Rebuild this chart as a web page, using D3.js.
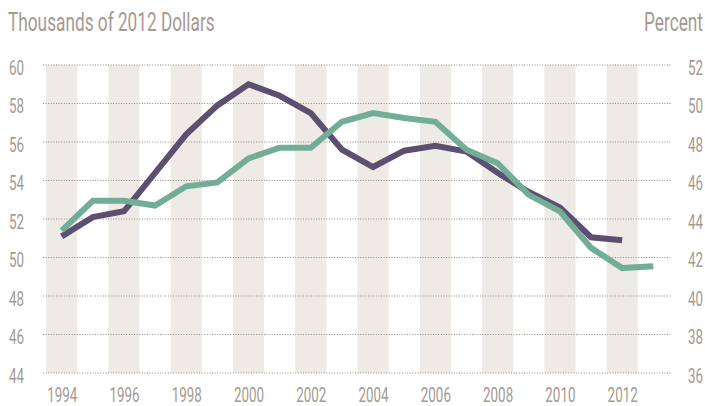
<!DOCTYPE html>
<html lang='en'>
<head>
  <meta charset='UTF-8'>
  <title>Income and share</title>
  <script src='https://cdnjs.cloudflare.com/ajax/libs/d3/7.8.5/d3.min.js'></script>
  <style>
    body { margin: 0; background: #fff; }
    text { font-family: 'Roboto', sans-serif; fill: #a59a90; }
  </style>
</head>
<body>
  <svg width='705' height='406'></svg>

  <script>
    var years = [1994, 1995, 1996, 1997, 1998, 1999, 2000, 2001, 2002, 2003, 2004,
      2005, 2006, 2007, 2008, 2009, 2010, 2011, 2012, 2013];
    // thousands of 2012 dollars (left axis), ends in 2012
    var income = [51.1, 52.1, 52.4, 54.4, 56.4, 57.9, 59.0, 58.4, 57.5, 55.6, 54.7,
      55.55, 55.8, 55.5, 54.4, 53.4, 52.6, 51.05, 50.9];
    // percent (right axis)
    var percent = [43.4, 44.95, 44.95, 44.7, 45.7, 45.9, 47.15, 47.7, 47.7, 49.05, 49.5,
      49.25, 49.05, 47.6, 46.9, 45.25, 44.4, 42.5, 41.45, 41.55];
    var leftTicks = [44, 46, 48, 50, 52, 54, 56, 58, 60];
    var rightTicks = [36, 38, 40, 42, 44, 46, 48, 50, 52];
    var yearTicks = [1994, 1996, 1998, 2000, 2002, 2004, 2006, 2008, 2010, 2012];

    var svg = d3.select('svg'),
      margin = {top: 65, right: 33, bottom: 33, left: 43},
      width = +svg.attr('width') - margin.left - margin.right,
      height = +svg.attr('height') - margin.top - margin.bottom;

    var x = d3.scaleLinear().domain([1993.4, 2013.6]).range([margin.left, margin.left + width]);
    var yL = d3.scaleLinear().domain([44, 60]).range([margin.top + height, margin.top]);
    var yR = d3.scaleLinear().domain([36, 52]).range([margin.top + height, margin.top]);
    var step = x(1995) - x(1994);

    // no condensed face installed, so squeeze the glyphs horizontally
    function squeeze(sel, sx) {
      sel.each(function() {
        var t = d3.select(this), xx = +t.attr('x') || 0;
        t.attr('x', 0).attr('transform', 'translate(' + xx + ',0) scale(' + sx + ',1)');
      });
    }

    // shaded bands on even years
    svg.append('g').selectAll('rect').data(yearTicks)
      .enter().append('rect')
      .attr('x', d => x(d) - step / 2)
      .attr('width', step)
      .attr('y', margin.top)
      .attr('height', height)
      .attr('fill', '#eeebe7');

    // dotted gridlines
    svg.append('g').selectAll('line').data(leftTicks)
      .enter().append('line')
      .attr('x1', margin.left)
      .attr('x2', margin.left + width)
      .attr('y1', d => yL(d))
      .attr('y2', d => yL(d))
      .attr('stroke', '#958a80')
      .attr('stroke-width', 1.1)
      .attr('stroke-dasharray', '1,1.6');

    var leftAxis = d3.axisLeft(yL).tickValues(leftTicks).tickSize(0).tickPadding(19);
    var rightAxis = d3.axisRight(yR).tickValues(rightTicks).tickSize(0).tickPadding(16);
    var bottomAxis = d3.axisBottom(x).tickValues(yearTicks).tickFormat(d3.format('d')).tickSize(0).tickPadding(15);

    function styleAxis(g) {
      g.select('.domain').remove();
      g.selectAll('text').attr('font-size', 20).attr('fill', '#a59a90')
        .attr('font-family', null).call(squeeze, 0.67);
    }
    svg.append('g').attr('transform', 'translate(' + margin.left + ',0)').call(leftAxis).call(styleAxis)
      .selectAll('text').attr('dy', '0.45em');
    svg.append('g').attr('transform', 'translate(' + (margin.left + width) + ',0)').call(rightAxis).call(styleAxis)
      .selectAll('text').attr('dy', '0.45em');
    svg.append('g').attr('transform', 'translate(0,' + (margin.top + height) + ')').call(bottomAxis).call(styleAxis);

    var lineL = d3.line().x((d, i) => x(years[i])).y(d => yL(d));
    var lineR = d3.line().x((d, i) => x(years[i])).y(d => yR(d));

    svg.append('path').datum(income)
      .attr('fill', 'none')
      .attr('stroke', '#5c4f6f')
      .attr('stroke-width', 6)
      .attr('d', lineL);
    svg.append('path').datum(percent)
      .attr('fill', 'none')
      .attr('stroke', '#72ae97')
      .attr('stroke-width', 6)
      .attr('d', lineR);

    svg.append('text').attr('x', 8).attr('y', 31).attr('font-size', 25)
      .text('Thousands of 2012 Dollars').call(squeeze, 0.69);
    svg.append('text').attr('x', 703).attr('y', 31).attr('font-size', 25)
      .attr('text-anchor', 'end').text('Percent').call(squeeze, 0.69);
  </script>
</body>
</html>
